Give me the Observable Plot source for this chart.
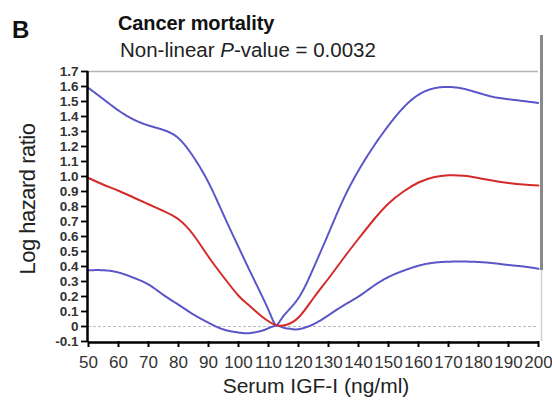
<!DOCTYPE html>
<html>
<head>
<meta charset="utf-8">
<script src="https://cdn.jsdelivr.net/npm/d3@7"></script>
<script src="https://cdn.jsdelivr.net/npm/@observablehq/plot@0.6"></script>
<style>
  html, body { margin: 0; padding: 0; background: #fff; }
  #wrap { position: relative; width: 552px; height: 400px; font-family: "Liberation Sans", Arial, sans-serif; }
  .t { position: absolute; white-space: nowrap; color: #111; line-height: 1; }
  #panel { left: 12px; top: 18px; font-size: 24px; font-weight: bold; }
  #title { left: 118px; top: 13px; font-size: 20px; font-weight: bold; letter-spacing: -0.1px; }
  #sub { left: 120px; top: 40px; font-size: 20.5px; color: #222; }
  #ylab { left: 28px; top: 199px; font-size: 22px; letter-spacing: -0.5px; transform: translate(-50%, -50%) rotate(-90deg); color: #222; }
  #xlab { left: 316px; top: 375px; font-size: 21px; letter-spacing: 0px; transform: translateX(-50%); color: #222; }
  #chart { position: absolute; left: 0; top: 0; }
  #chart svg g[aria-label="y-axis tick label"] text { font-size: 13.5px; font-weight: bold; font-family: "Liberation Sans", Arial, sans-serif; }
</style>
</head>
<body>
<div id="wrap">
  <div id="chart"></div>
  <div class="t" id="panel">B</div>
  <div class="t" id="title">Cancer mortality</div>
  <div class="t" id="sub">Non-linear <i>P</i>-value = 0.0032</div>
  <div class="t" id="ylab">Log hazard ratio</div>
  <div class="t" id="xlab">Serum IGF-I (ng/ml)</div>
</div>
<script>
// Serum IGF-I (ng/ml) -> log hazard ratio
const estX = [50,55,60,65,70,75,80,85,90,95,100,103,106,109,112,114,116,120,125,130,135,140,145,150,155,160,165,170,175,180,185,190,195,200];
const estY = [0.99,0.945,0.905,0.86,0.815,0.77,0.715,0.61,0.465,0.33,0.205,0.15,0.097,0.048,0.012,0.005,0.012,0.06,0.19,0.32,0.455,0.585,0.71,0.82,0.9,0.96,0.995,1.008,1.005,0.99,0.972,0.957,0.946,0.94];

const upX = [50,55,60,65,70,75,80,85,90,95,100,105,110,112.5,115,120,125,130,135,140,145,150,155,160,165,170,175,180,185,190,195,200];
const upY = [1.59,1.515,1.44,1.38,1.34,1.31,1.255,1.13,0.96,0.745,0.53,0.32,0.11,0.01,0.07,0.19,0.39,0.62,0.85,1.04,1.2,1.34,1.46,1.545,1.587,1.597,1.585,1.557,1.53,1.515,1.503,1.49];

const loX = [50,55,60,65,70,75,80,85,90,95,100,103,106,109,112.5,115,117,120,125,130,135,140,145,150,155,160,165,170,175,180,185,190,195,200];
const loY = [0.375,0.375,0.36,0.325,0.28,0.21,0.145,0.08,0.025,-0.02,-0.04,-0.045,-0.037,-0.02,0.005,-0.008,-0.015,-0.018,0.015,0.075,0.14,0.2,0.27,0.33,0.372,0.405,0.425,0.432,0.433,0.43,0.422,0.41,0.4,0.385];

const xTicks = [50,60,70,80,90,100,110,120,130,140,150,160,170,180,190,200];
const yTicks = [-0.1,0,0.1,0.2,0.3,0.4,0.5,0.6,0.7,0.8,0.9,1.0,1.1,1.2,1.3,1.4,1.5,1.6,1.7];

const toRows = (xs, ys) => xs.map((x, i) => ({x, y: ys[i]}));
const est = toRows(estX, estY);
const upper = toRows(upX, upY);
const lower = toRows(loX, loY);

const chart = Plot.plot({
  width: 552,
  height: 400,
  marginTop: 71,
  marginBottom: 59,
  marginLeft: 88,
  marginRight: 14,
  style: {fontFamily: "'Liberation Sans Narrow', 'Liberation Sans', Arial, sans-serif", background: "transparent"},
  x: {domain: [50, 200]},
  y: {domain: [-0.1, 1.7]},
  marks: [
    Plot.ruleY([0], {stroke: "#bbb", strokeWidth: 1, strokeDasharray: "3,2"}),
    Plot.ruleY([1.7], {stroke: "#b5b5b5", strokeWidth: 1.5}),
    Plot.ruleX([200], {y1: -0.1, y2: 0.373, stroke: "#d0d0d0", strokeWidth: 1.5, dx: 3}),
    Plot.ruleX([200], {y1: 0.373, y2: 1.94, stroke: "#8a8a8a", strokeWidth: 3, dx: 3}),
    Plot.line(upper, {x: "x", y: "y", curve: "natural", stroke: "#5a55c8", strokeWidth: 2, strokeDasharray: "1,0.8"}),
    Plot.line(lower, {x: "x", y: "y", curve: "natural", stroke: "#5a55c8", strokeWidth: 2, strokeDasharray: "1,0.8"}),
    Plot.line(est, {x: "x", y: "y", curve: "natural", stroke: "#d42a2a", strokeWidth: 2}),
    Plot.axisY(yTicks, {tickSize: 7, tickPadding: 3, strokeWidth: 1.8, stroke: "#000",
      tickFormat: d => d === 0 ? "0" : d.toFixed(1), fontSize: 13.5, fontWeight: "bold", fill: "#333",
      fontFamily: "'Liberation Sans', Arial, sans-serif", label: null}),
    Plot.axisX(xTicks, {tickSize: 6, tickPadding: 8, strokeWidth: 2, stroke: "#000",
      tickFormat: d => String(d), fontSize: 17, fill: "#333", label: null}),
    Plot.ruleX([50], {y1: -0.1, y2: 1.7, stroke: "#000", strokeWidth: 2.5, dx: -1}),
    Plot.ruleY([-0.1], {x1: 50, x2: 200, stroke: "#000", strokeWidth: 2.5, dy: 1})
  ]
});
document.getElementById("chart").appendChild(chart);
</script>
</body>
</html>
